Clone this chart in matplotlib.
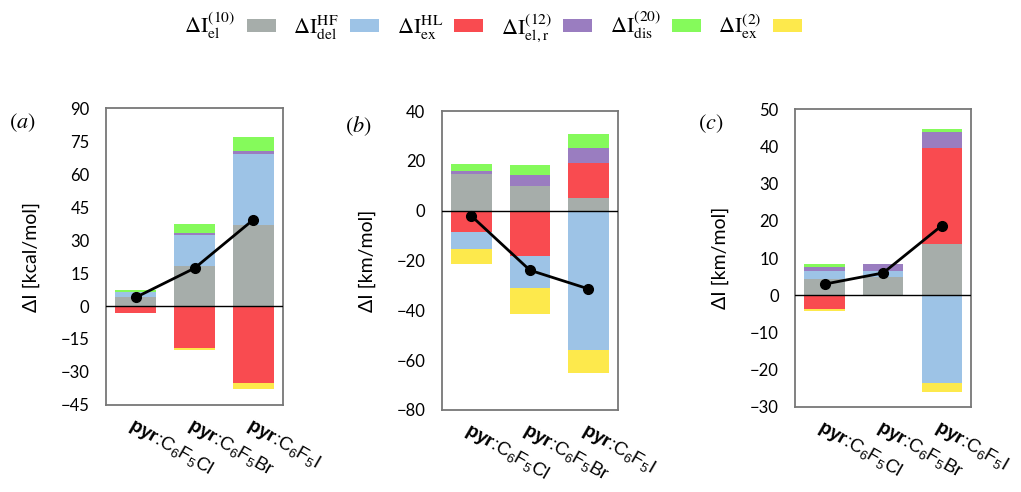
import matplotlib
matplotlib.use("Agg")
import matplotlib.pyplot as plt
from matplotlib.patches import Patch
import numpy as np

plt.rcParams['font.family'] = ['Lato', 'DejaVu Sans']
plt.rcParams['mathtext.fontset'] = 'custom'
plt.rcParams['mathtext.rm'] = 'Liberation Sans'
plt.rcParams['mathtext.it'] = 'Liberation Sans:italic'
plt.rcParams['mathtext.bf'] = 'Liberation Sans:bold'

# components (legend order)
comp_labels = [r"$\Delta\mathrm{I}_{\mathrm{el}}^{(10)}$",
               r"$\Delta\mathrm{I}_{\mathrm{del}}^{\mathrm{HF}}$",
               r"$\Delta\mathrm{I}_{\mathrm{ex}}^{\mathrm{HL}}$",
               r"$\Delta\mathrm{I}_{\mathrm{el,r}}^{(12)}$",
               r"$\Delta\mathrm{I}_{\mathrm{dis}}^{(20)}$",
               r"$\Delta\mathrm{I}_{\mathrm{ex}}^{(2)}$"]
comp_colors = ["#a6adaa", "#9dc3e6", "#f94b50", "#9a7dc0", "#85fa5b", "#fde94c"]
stack_order = [0, 2, 1, 3, 4, 5]

systems = [r"$\mathbf{pyr}$:C$_6$F$_5$Cl",
           r"$\mathbf{pyr}$:C$_6$F$_5$Br",
           r"$\mathbf{pyr}$:C$_6$F$_5$I"]

# panel (a) kcal/mol, rows = components, cols = Cl, Br, I
vals_a = [[4.2, 18.3, 37.0],
          [2.0, 14.0, 32.3],
          [-3.0, -19.0, -35.0],
          [0.3, 0.8, 1.2],
          [0.6, 4.2, 6.2],
          [-0.3, -1.1, -2.8]]
tot_a = [3.9, 17.2, 39.3]

# panel (b) km/mol
vals_b = [[14.8, 9.8, 5.2],
          [-6.7, -13.0, -55.8],
          [-8.5, -18.0, 13.9],
          [1.3, 4.4, 6.3],
          [2.7, 4.1, 5.3],
          [-6.4, -10.6, -9.4]]
tot_b = [-2.1, -23.9, -31.4]

# panel (c) km/mol
vals_c = [[4.4, 4.8, 13.8],
          [2.0, 1.6, -23.7],
          [-3.8, 0.0, 25.9],
          [1.3, 1.9, 4.3],
          [0.6, 0.1, 0.8],
          [-0.5, -0.3, -2.4]]
tot_c = [3.0, 6.0, 18.7]

panels = [
    ("(a)", vals_a, tot_a, (-45, 90), np.arange(-45, 91, 15), "ΔI [kcal/mol]",
     [0.104, 0.177, 0.173, 0.603]),
    ("(b)", vals_b, tot_b, (-80, 40), np.arange(-80, 41, 20), "ΔI [km/mol]",
     [0.433, 0.167, 0.172, 0.607]),
    ("(c)", vals_c, tot_c, (-30, 50), np.arange(-30, 51, 10), "ΔI [km/mol]",
     [0.779, 0.173, 0.172, 0.605]),
]

fig = plt.figure(figsize=(10.21, 4.92), dpi=100)
x = np.arange(len(systems))

for tag, vals, tot, ylim, yticks, ylab, pos in panels:
    ax = fig.add_axes(pos)
    vals = np.array(vals)
    pos_base = np.zeros(len(x))
    neg_base = np.zeros(len(x))
    for i in stack_order:
        v = vals[i]
        base = np.where(v >= 0, pos_base, neg_base)
        ax.bar(x, v, width=0.69, bottom=base, color=comp_colors[i], linewidth=0, zorder=2)
        pos_base = pos_base + np.where(v >= 0, v, 0)
        neg_base = neg_base + np.where(v < 0, v, 0)
    ax.axhline(0, color="black", lw=1, zorder=3)
    ax.plot(x, tot, "o-", color="black", lw=2, ms=7, zorder=4)
    ax.set_xlim(-0.5, 2.5)
    ax.set_ylim(*ylim)
    ax.set_yticks(yticks)
    ax.tick_params(axis="y", length=0, labelsize=12, pad=12)
    ax.tick_params(axis="x", length=0, pad=7)
    ax.set_xticks(x)
    ax.set_xticklabels(systems, rotation=-30, ha="left", va="top",
                       rotation_mode="anchor", fontsize=13.5, family="Liberation Sans")
    for sp in ax.spines.values():
        sp.set_color("#777777")
        sp.set_linewidth(1.3)
    ax.set_ylabel(ylab, fontsize=14, labelpad=15)
    fig.text(pos[0] - 0.095, pos[1] + pos[3] - 0.03, "$" + tag + "$", fontsize=16,
             math_fontfamily="stix", va="center", ha="left")

handles = [Patch(facecolor=c, edgecolor="none") for c in comp_colors]
leg = fig.legend(handles, comp_labels, loc="upper center", bbox_to_anchor=(0.483, 1.02),
                 ncol=6, frameon=False, markerfirst=False, fontsize=16,
                 handlelength=1.3, handleheight=0.55, handletextpad=0.5, columnspacing=0.8)
for t in leg.get_texts():
    t.set_math_fontfamily("stix")

fig.savefig("out.png", dpi=100)
